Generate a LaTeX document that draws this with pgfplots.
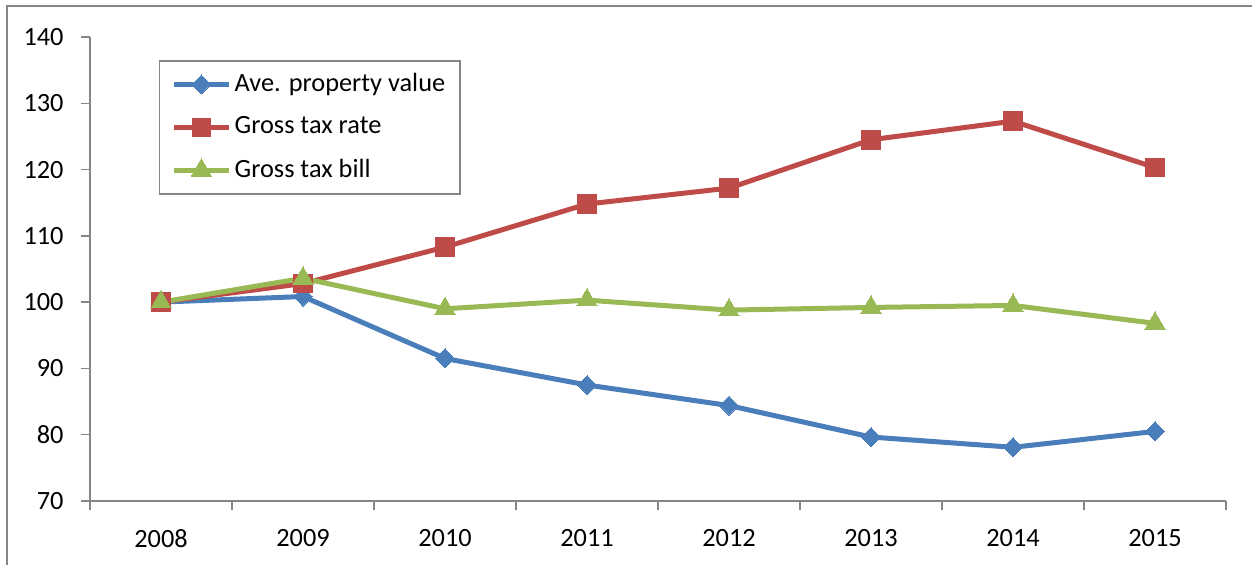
\documentclass[border=0pt]{standalone}
\usepackage{pgfplots}
\pgfplotsset{compat=1.18}
\usepackage{fontspec}
\setmainfont{Carlito}
\definecolor{cblue}{HTML}{4A7EBB}
\definecolor{cred}{HTML}{BE4B48}
\definecolor{cgreen}{HTML}{98B954}
\definecolor{axgray}{HTML}{868686}
\begin{document}
\fontsize{15.8pt}{18pt}\selectfont
\begin{tikzpicture}
\useasboundingbox (0,0) rectangle (751.2pt,339pt);
\draw[axgray, line width=1.2pt] (4.2pt,-2pt) -- (4.2pt,335.4pt) -- (753pt,335.4pt);
\begin{axis}[
  at={(54pt,38.4pt)}, anchor=south west,
  scale only axis, width=681.6pt, height=278.4pt,
  xmin=-0.5, xmax=7.5, ymin=70, ymax=140,
  axis lines*=left,
  axis line style={axgray, line width=0.9pt},
  xtick={0,...,7},
  xticklabels={2008,2009,2010,2011,2012,2013,2014,2015},
  major x tick style={draw=none},
  minor xtick={-0.5,0.5,...,7.5},
  minor tick length=5.4pt,
  major tick length=5.4pt,
  tick align=outside,
  tick style={axgray, line width=0.9pt},
  ytick={70,80,...,140},
  /pgf/number format/assume math mode=true,
  tick label style={font=\fontsize{15.8pt}{18pt}\selectfont, text=black},
  xticklabel style={yshift=-6pt},
  yticklabel style={xshift=-5pt},
  clip=false,
  legend cell align=left,
  legend style={at={(rel axis cs:0.0607,0.9504)}, anchor=north west,
    draw=axgray, line width=0.9pt, font=\fontsize{15.8pt}{18pt}\selectfont,
    inner xsep=7pt, inner ysep=5.5pt, row sep=8.8pt,
    /tikz/every odd column/.append style={column sep=0pt},
    nodes={inner xsep=2pt}},
  legend image code/.code={
    \draw[mark repeat=2, mark phase=2] plot coordinates {(0pt,0pt) (16.5pt,0pt) (33pt,0pt)};
  },
]
\addplot[cblue, line width=3pt, mark=diamond*, mark size=5.7pt, mark options={solid, line width=0pt, xscale=1.33}]
  coordinates {(0,100) (1,100.85) (2,91.5) (3,87.5) (4,84.4) (5,79.65) (6,78.1) (7,80.5)};
\addlegendentry{Ave. property value}
\addplot[cred, line width=3pt, mark=square*, mark size=5.6pt, mark options={solid, line width=0pt}]
  coordinates {(0,100) (1,102.8) (2,108.3) (3,114.8) (4,117.2) (5,124.5) (6,127.3) (7,120.3)};
\addlegendentry{Gross tax rate}
\addplot[cgreen, line width=3pt, mark=triangle*, mark size=7pt, mark options={solid, line width=0pt}]
  coordinates {(0,100) (1,103.6) (2,99.0) (3,100.3) (4,98.8) (5,99.2) (6,99.5) (7,96.8)};
\addlegendentry{Gross tax bill}
\end{axis}
\end{tikzpicture}
\end{document}
